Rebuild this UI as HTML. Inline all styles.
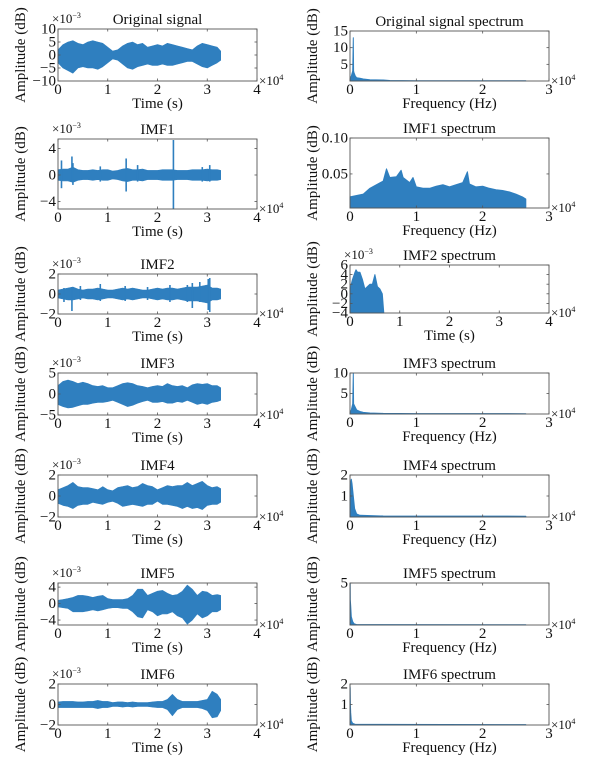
<!DOCTYPE html>
<html><head><meta charset="utf-8">
<style>
html,body{margin:0;padding:0;background:#fff;}
svg{display:block;}
svg text{font-family:"Liberation Serif","Times New Roman",serif;}
</style></head>
<body>
<svg id="fig" width="610" height="763" viewBox="0 0 610 763" xmlns="http://www.w3.org/2000/svg" font-family="Liberation Serif, serif"></svg>
<script>
// ---------- data ----------
const timeGrid = [0,0.1,0.2,0.3,0.4,0.5,0.6,0.7,0.8,0.9,1.0,1.1,1.2,1.3,1.4,1.5,1.6,1.7,1.8,1.9,2.0,2.1,2.2,2.3,2.4,2.5,2.6,2.7,2.8,2.9,3.0,3.1,3.2,3.27];

const origUpper = [2,4,5,5.5,4.5,4,5,5.5,5,4.5,3,1.5,2,3.5,4.5,5,4,4.5,3,3.5,4,3.5,4.5,4,3.5,3,2.5,2,3.5,4.5,4,3.5,3,1.5];
const origLower = [-3,-5,-6,-7,-5,-4.5,-5,-5,-5.5,-4.5,-3,-1.5,-2,-3.5,-5,-5.5,-4.5,-4,-3.5,-4,-4,-3.5,-4,-4,-3.5,-3,-2.5,-2.5,-3.5,-4.5,-5,-4,-3,-2];

const imf1Upper = [0.8,0.9,0.9,1.2,0.8,0.7,0.7,0.8,0.7,0.8,0.8,0.6,0.7,0.9,1.0,0.8,0.8,0.9,0.7,0.7,0.7,0.8,0.8,0.8,0.7,0.7,0.7,0.8,0.8,0.8,0.9,0.8,0.8,0.7];
const imf1Lower = [-0.8,-0.9,-0.9,-1.1,-0.8,-0.7,-0.7,-0.8,-0.7,-0.8,-0.8,-0.6,-0.7,-0.9,-1.0,-0.8,-0.8,-0.9,-0.7,-0.7,-0.7,-0.8,-0.8,-0.8,-0.7,-0.7,-0.7,-0.8,-0.8,-0.8,-0.9,-0.8,-0.8,-0.7];
const imf1SpikeT = [0.07,0.28,0.3,0.85,1.37,1.6,2.32,2.9,3.05];
const imf1SpikeUp = [2.2,2.8,1.8,1.3,2.5,1.5,5.3,1.2,1.5];
const imf1SpikeDown = [-2,-1,-1.5,-1,-2.5,-1,-5.3,-1,-1];

const imf2Upper = [0.4,0.5,0.6,0.7,0.5,0.4,0.5,0.5,0.6,0.5,0.4,0.4,0.5,0.6,0.5,0.6,0.5,0.4,0.4,0.5,0.6,0.5,0.6,0.6,0.5,0.6,0.7,0.7,0.7,0.8,0.9,0.6,0.6,0.5];
const imf2Lower = [-0.4,-0.5,-0.6,-0.6,-0.5,-0.4,-0.5,-0.5,-0.6,-0.5,-0.4,-0.4,-0.5,-0.6,-0.5,-0.6,-0.5,-0.4,-0.4,-0.5,-0.6,-0.5,-0.6,-0.6,-0.5,-0.6,-0.7,-0.7,-0.7,-0.8,-0.9,-0.6,-0.6,-0.5];
const imf2SpikeT = [0.12,0.28,0.45,0.85,1.35,1.8,2.25,2.6,2.7,2.85,3.02,3.05];
const imf2SpikeUp = [0.6,0.7,0.8,1.0,0.8,0.7,0.9,0.9,1.1,1.2,1.5,1.6];
const imf2SpikeDown = [-0.8,-1.7,-0.6,-0.7,-0.7,-0.6,-0.8,-0.8,-1.4,-0.8,-1.6,-1.8];

const imf3Upper = [2,3,3.3,3,2.5,2.8,2.5,2,1.8,2,1.5,1.5,2,2.5,2.7,2.5,2,1.8,1.5,1.8,2,1.8,2.5,2,1.8,2,1.5,2.2,2.5,2.3,2.5,2,2,1.5];
const imf3Lower = [-2.5,-3,-3.3,-3.2,-2.8,-2.5,-2.5,-2.2,-2,-2,-1.8,-1.5,-2,-2.5,-3,-2.7,-2.2,-1.8,-1.5,-2,-2,-1.8,-2.2,-2.2,-1.8,-2,-1.5,-2,-2.5,-2.2,-2.5,-2,-1.8,-1.5];

const imf4Upper = [0.6,0.8,1.0,1.3,0.9,0.8,0.8,0.7,0.6,0.9,0.6,0.5,0.8,0.9,1.0,0.8,0.9,1.2,1.0,0.9,0.6,0.8,1.0,0.9,1.0,1.0,1.3,1.0,1.2,1.4,1.0,0.8,0.9,0.7];
const imf4Lower = [-0.7,-0.9,-1.0,-1.2,-0.9,-0.8,-0.8,-0.6,-0.7,-0.8,-0.6,-0.5,-0.7,-1.0,-0.9,-0.8,-0.9,-1.0,-0.8,-0.8,-0.5,-0.8,-0.8,-0.9,-1.0,-1.2,-1.0,-1.2,-1.1,-1.3,-0.9,-0.8,-0.8,-0.6];

const imf5Upper = [0.8,1.0,1.2,1.5,2,2,1.8,1.5,1.8,2,1.2,1,1,1,1.2,2,3.5,3.5,2,2.5,3,3.2,2.5,2,2.2,3,4.5,3.5,2,3,2.8,2,2.2,2];
const imf5Lower = [-0.8,-1,-1.2,-2,-2,-2,-1.8,-1.5,-1.8,-1.5,-1.2,-1,-1,-1.2,-1.2,-2,-3.2,-3.5,-1.5,-2,-3,-2.5,-2.5,-2,-3,-3.5,-5,-4,-2.5,-3.5,-3,-2,-2,-1.5];

const imf6Upper = [0.25,0.3,0.3,0.3,0.25,0.25,0.3,0.3,0.4,0.3,0.3,0.2,0.25,0.25,0.2,0.25,0.2,0.2,0.2,0.25,0.3,0.3,0.5,1.0,0.5,0.3,0.3,0.3,0.3,0.4,0.5,1.3,1.0,0.5];
const imf6Lower = [-0.3,-0.3,-0.3,-0.3,-0.3,-0.3,-0.3,-0.3,-0.4,-0.3,-0.3,-0.2,-0.2,-0.25,-0.2,-0.25,-0.2,-0.2,-0.2,-0.25,-0.3,-0.3,-0.5,-1.1,-0.5,-0.3,-0.3,-0.3,-0.3,-0.4,-0.6,-1.3,-1.2,-0.6];

const origSpecF = [0,0.02,0.04,0.05,0.055,0.06,0.08,0.1,0.15,0.2,0.3,0.5,0.6,1,2,2.65];
const origSpecA = [0.5,1.5,3,13,3,2.5,1.5,1,0.8,0.6,0.4,0.3,0.15,0.1,0.08,0.05];

const imf1SpecF = [0,0.1,0.2,0.3,0.4,0.5,0.55,0.6,0.7,0.77,0.8,0.9,0.95,1.0,1.1,1.2,1.3,1.4,1.5,1.6,1.7,1.77,1.8,1.9,2.0,2.1,2.2,2.3,2.4,2.5,2.6,2.65];
const imf1SpecA = [0.018,0.02,0.022,0.03,0.035,0.04,0.057,0.045,0.046,0.055,0.045,0.038,0.045,0.032,0.03,0.03,0.033,0.035,0.032,0.035,0.038,0.053,0.036,0.032,0.033,0.03,0.028,0.027,0.025,0.022,0.018,0.015];

const imf2SpecF = [0,0.05,0.1,0.12,0.15,0.2,0.25,0.3,0.35,0.4,0.45,0.5,0.55,0.6,0.65,0.68];
const imf2SpecA = [1,3,4.5,5,4.5,4.5,3,1,1.5,2,2,4,1.5,1,0,-4];

const imf3SpecF = [0,0.02,0.04,0.05,0.055,0.07,0.1,0.15,0.2,0.3,0.5,1,2.65];
const imf3SpecA = [0.3,1,2.5,10,2.5,2,1,0.6,0.4,0.25,0.15,0.1,0.08];

const imf4SpecF = [0,0.005,0.02,0.03,0.05,0.07,0.1,0.15,0.5,2.65];
const imf4SpecA = [1.2,1.5,1.8,1.6,1.0,0.4,0.15,0.08,0.05,0.04];

const imf5SpecF = [0,0.003,0.005,0.01,0.02,0.04,0.06,0.1,2.65];
const imf5SpecA = [2,4.9,3,2.3,1,0.4,0.15,0.05,0.03];

const imf6SpecF = [0,0.003,0.006,0.01,0.02,0.04,0.08,2.65];
const imf6SpecA = [1.9,1.8,1,0.6,0.2,0.08,0.03,0.02];

// ---------- drawing ----------
const NS = "http://www.w3.org/2000/svg";
const svg = document.getElementById('fig');
const BLUE = "#2f7fbf";
const FONT = '"Liberation Serif", "Times New Roman", serif';
function el(tag, attrs, parent, text){
  const e = document.createElementNS(NS, tag);
  for (const k in attrs) e.setAttribute(k, attrs[k]);
  if (tag === 'text') e.style.fontFamily = FONT;
  if (text !== undefined) e.textContent = text;
  (parent || svg).appendChild(e);
  return e;
}
function fmt(v, dec){ let s = dec ? v.toFixed(dec) : String(v); return s.replace('-', '\u2212'); }

function panel(p){
  const g = el('g', {});
  
  
  const W = p.x1 - p.x0, H = p.y1 - p.y0;
  const sx = v => p.x0 + (v - p.xlim[0]) / (p.xlim[1] - p.xlim[0]) * W;
  const sy = v => p.y1 - (v - p.ylim[0]) / (p.ylim[1] - p.ylim[0]) * H;
  const cy = v => Math.max(p.y0, Math.min(p.y1, sy(v)));
  if (p.upper){
    let pts = p.t.map((t,i)=> sx(t).toFixed(1)+','+cy(p.upper[i]).toFixed(1));
    for (let i = p.t.length-1; i >= 0; i--) pts.push(sx(p.t[i]).toFixed(1)+','+cy(p.lower[i]).toFixed(1));
    const poly = el('polygon', {points: pts.join(' '), fill: BLUE, stroke: BLUE, 'stroke-width': 0.6, 'stroke-linejoin':'round'}, g);
    
    
  }
  if (p.spikeT){
    p.spikeT.forEach((t,i)=>{
      const ln = el('line', {x1: sx(t), x2: sx(t), y1: cy(p.spikeUp[i]), y2: cy(p.spikeDown[i]), stroke: BLUE, 'stroke-width': 1.6}, g);
      
      
    });
  }
  if (p.f){
    let pts = [sx(p.f[0]).toFixed(1)+','+p.y1];
    p.f.forEach((f,i)=> pts.push(sx(f).toFixed(1)+','+cy(p.a[i]).toFixed(1)));
    pts.push(sx(p.f[p.f.length-1]).toFixed(1)+','+p.y1);
    const poly = el('polygon', {points: pts.join(' '), fill: BLUE, stroke: BLUE, 'stroke-width': 1, 'stroke-linejoin':'round'}, g);
    
    
  }
  const box = el('rect', {x: p.x0, y: p.y0, width: W, height: H, fill: 'none', stroke: '#555', 'stroke-width': 0.9}, g);
  
  
  p.xticks.forEach(v=>{
    const x = sx(v);
    el('line', {x1:x, x2:x, y1:p.y1, y2:p.y1-2.5, stroke:'#555', 'stroke-width':0.8}, g);
    el('line', {x1:x, x2:x, y1:p.y0, y2:p.y0+2.5, stroke:'#555', 'stroke-width':0.8}, g);
    const t = el('text', {x:x, y:p.y1+13, 'font-size':15, 'text-anchor':'middle', fill:'#111'}, g, fmt(v));
    
    
  });
  p.yticks.forEach(v=>{
    const y = sy(v);
    el('line', {x1:p.x0, x2:p.x0+2.5, y1:y, y2:y, stroke:'#555', 'stroke-width':0.8}, g);
    el('line', {x1:p.x1, x2:p.x1-2.5, y1:y, y2:y, stroke:'#555', 'stroke-width':0.8}, g);
    const t = el('text', {x:p.x0-2, y:y+4.5, 'font-size':15, 'text-anchor':'end', fill:'#111'}, g, fmt(v, p.ydec));
    
    
  });
  const tt = el('text', {x:(p.x0+p.x1)/2, y:p.y0-5, 'font-size':15, 'text-anchor':'middle', fill:'#111'}, g, p.title);
  
  
  const xl = el('text', {x:(p.x0+p.x1)/2, y:p.y1+27, 'font-size':15, 'text-anchor':'middle', fill:'#111'}, g, p.xlabel);
  
  
  const ycx = p.x0 - 33, ycy = (p.y0+p.y1)/2;
  const yl = el('text', {x:ycx, y:ycy, 'font-size':15, 'text-anchor':'middle', fill:'#111', transform:'rotate(-90 '+ycx+' '+ycy+')'}, g, 'Amplitude (dB)');
  
  
  const xm = el('text', {x:p.x1+2, y:p.y1+4, 'font-size':13, fill:'#111'}, g);
  
  
  el('tspan', {}, xm, '\u00d710');
  el('tspan', {dy:-5, 'font-size':8}, xm, '4');
  if (p.yexp){
    const ym = el('text', {x:p.x0-6, y:p.y0-6, 'font-size':13, fill:'#111'}, g);
    
    
    el('tspan', {}, ym, '\u00d710');
    el('tspan', {dy:-5, 'font-size':8}, ym, '\u22123');
  }
}

const LX0 = 58, LX1 = 257, RX0 = 350, RX1 = 549;
const T = timeGrid;
panel({name:'original-signal-panel', title:'Original signal', xlabel:'Time (s)', x0:LX0, x1:LX1, y0:29, y1:81, xlim:[0,4], ylim:[-10,10], xticks:[0,1,2,3,4], yticks:[-10,-5,0,5,10], yexp:true, t:T, upper:origUpper, lower:origLower});
panel({name:'imf1-panel', title:'IMF1', xlabel:'Time (s)', x0:LX0, x1:LX1, y0:139, y1:209, xlim:[0,4], ylim:[-5.15,5.45], xticks:[0,1,2,3,4], yticks:[-4,0,4], yexp:true, t:T, upper:imf1Upper, lower:imf1Lower, spikeT:imf1SpikeT, spikeUp:imf1SpikeUp, spikeDown:imf1SpikeDown});
panel({name:'imf2-panel', title:'IMF2', xlabel:'Time (s)', x0:LX0, x1:LX1, y0:274, y1:314, xlim:[0,4], ylim:[-2,2], xticks:[0,1,2,3,4], yticks:[-2,0,2], yexp:true, t:T, upper:imf2Upper, lower:imf2Lower, spikeT:imf2SpikeT, spikeUp:imf2SpikeUp, spikeDown:imf2SpikeDown});
panel({name:'imf3-panel', title:'IMF3', xlabel:'Time (s)', x0:LX0, x1:LX1, y0:373, y1:415, xlim:[0,4], ylim:[-5,5], xticks:[0,1,2,3,4], yticks:[-5,0,5], yexp:true, t:T, upper:imf3Upper, lower:imf3Lower});
panel({name:'imf4-panel', title:'IMF4', xlabel:'Time (s)', x0:LX0, x1:LX1, y0:475, y1:517, xlim:[0,4], ylim:[-2,2], xticks:[0,1,2,3,4], yticks:[-2,0,2], yexp:true, t:T, upper:imf4Upper, lower:imf4Lower});
panel({name:'imf5-panel', title:'IMF5', xlabel:'Time (s)', x0:LX0, x1:LX1, y0:583, y1:625, xlim:[0,4], ylim:[-5.2,5], xticks:[0,1,2,3,4], yticks:[-4,0,4], yexp:true, t:T, upper:imf5Upper, lower:imf5Lower});
panel({name:'imf6-panel', title:'IMF6', xlabel:'Time (s)', x0:LX0, x1:LX1, y0:684, y1:725, xlim:[0,4], ylim:[-2,2], xticks:[0,1,2,3,4], yticks:[-2,0,2], yexp:true, t:T, upper:imf6Upper, lower:imf6Lower});

panel({name:'original-spectrum-panel', title:'Original signal spectrum', xlabel:'Frequency (Hz)', x0:RX0, x1:RX1, y0:31, y1:81, xlim:[0,3], ylim:[0,15], xticks:[0,1,2,3], yticks:[5,10,15], f:origSpecF, a:origSpecA});
panel({name:'imf1-spectrum-panel', title:'IMF1 spectrum', xlabel:'Frequency (Hz)', x0:RX0, x1:RX1, y0:138, y1:208, xlim:[0,3], ylim:[0.0026,0.10], xticks:[0,1,2,3], yticks:[0.05,0.10], ydec:2, f:imf1SpecF, a:imf1SpecA});
panel({name:'imf2-spectrum-panel', title:'IMF2 spectrum', xlabel:'Time (s)', x0:RX0, x1:RX1, y0:265, y1:313, xlim:[0,4], ylim:[-4,6], xticks:[0,1,2,3,4], yticks:[-4,-2,0,2,4,6], yexp:true, f:imf2SpecF, a:imf2SpecA});
panel({name:'imf3-spectrum-panel', title:'IMF3 spectrum', xlabel:'Frequency (Hz)', x0:RX0, x1:RX1, y0:373, y1:414, xlim:[0,3], ylim:[0,10], xticks:[0,1,2,3], yticks:[5,10], f:imf3SpecF, a:imf3SpecA});
panel({name:'imf4-spectrum-panel', title:'IMF4 spectrum', xlabel:'Frequency (Hz)', x0:RX0, x1:RX1, y0:475, y1:517, xlim:[0,3], ylim:[0,2], xticks:[0,1,2,3], yticks:[1,2], f:imf4SpecF, a:imf4SpecA});
panel({name:'imf5-spectrum-panel', title:'IMF5 spectrum', xlabel:'Frequency (Hz)', x0:RX0, x1:RX1, y0:583, y1:625, xlim:[0,3], ylim:[0,5], xticks:[0,1,2,3], yticks:[5], f:imf5SpecF, a:imf5SpecA});
panel({name:'imf6-spectrum-panel', title:'IMF6 spectrum', xlabel:'Frequency (Hz)', x0:RX0, x1:RX1, y0:684, y1:725, xlim:[0,3], ylim:[0,2], xticks:[0,1,2,3], yticks:[1,2], f:imf6SpecF, a:imf6SpecA});
</script>
</body></html>
